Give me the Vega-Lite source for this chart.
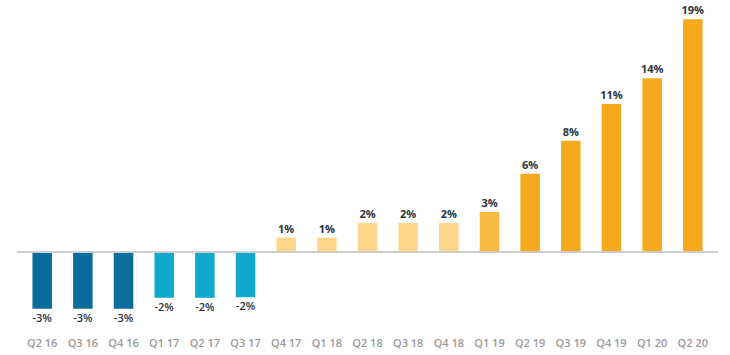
{
  "$schema": "https://vega.github.io/schema/vega-lite/v6.json",
  "autosize": {"type": "none"},
  "width": 701,
  "height": 319,
  "padding": {"left": 17, "top": 7, "right": 12, "bottom": 29},
  "background": "white",
  "config": {"view": {"stroke": null}, "font": "Open Sans"},
  "data": {
    "values": [
      {"quarter": "Q2 16", "value": -4.6, "label": "-3%", "group": "a"},
      {"quarter": "Q3 16", "value": -4.6, "label": "-3%", "group": "a"},
      {"quarter": "Q4 16", "value": -4.6, "label": "-3%", "group": "a"},
      {"quarter": "Q1 17", "value": -3.7, "label": "-2%", "group": "b"},
      {"quarter": "Q2 17", "value": -3.7, "label": "-2%", "group": "b"},
      {"quarter": "Q3 17", "value": -3.65, "label": "-2%", "group": "b"},
      {"quarter": "Q4 17", "value": 1.2, "label": "1%", "group": "c"},
      {"quarter": "Q1 18", "value": 1.2, "label": "1%", "group": "c"},
      {"quarter": "Q2 18", "value": 2.4, "label": "2%", "group": "c"},
      {"quarter": "Q3 18", "value": 2.4, "label": "2%", "group": "c"},
      {"quarter": "Q4 18", "value": 2.4, "label": "2%", "group": "c"},
      {"quarter": "Q1 19", "value": 3.3, "label": "3%", "group": "d"},
      {"quarter": "Q2 19", "value": 6.4, "label": "6%", "group": "e"},
      {"quarter": "Q3 19", "value": 9.1, "label": "8%", "group": "e"},
      {"quarter": "Q4 19", "value": 12.1, "label": "11%", "group": "e"},
      {"quarter": "Q1 20", "value": 14.2, "label": "14%", "group": "e"},
      {"quarter": "Q2 20", "value": 19.0, "label": "19%", "group": "e"}
    ]
  },
  "encoding": {
    "x": {
      "field": "quarter",
      "type": "nominal",
      "sort": null,
      "scale": {"paddingInner": 0.52, "paddingOuter": 0.38},
      "axis": {
        "title": null,
        "orient": "bottom",
        "domain": false,
        "ticks": false,
        "labelAngle": 0,
        "labelFontSize": 11,
        "labelFont": "Open Sans",
        "labelFontWeight": 600,
        "labelColor": "#9a9a9a",
        "labelPadding": 11
      }
    },
    "y": {
      "field": "value",
      "type": "quantitative",
      "scale": {"domain": [-6, 20], "nice": false, "zero": true},
      "axis": null
    }
  },
  "layer": [
    {
      "mark": {"type": "bar"},
      "encoding": {
        "color": {
          "field": "group",
          "type": "nominal",
          "scale": {
            "domain": ["a", "b", "c", "d", "e"],
            "range": ["#0a6d9c", "#10a8cc", "#fed68a", "#f8b940", "#f5a91c"]
          },
          "legend": null
        }
      }
    },
    {
      "mark": {"type": "rule", "color": "#cccccc", "strokeWidth": 1},
      "encoding": {"y": {"datum": 0}, "x": {"value": 0}, "x2": {"value": 701}}
    },
    {
      "transform": [{"filter": "datum.value >= 0"}],
      "mark": {"type": "text", "baseline": "bottom", "dy": -3, "fontSize": 11, "fontWeight": 700, "color": "#2b3440", "font": "Open Sans"},
      "encoding": {"text": {"field": "label"}}
    },
    {
      "transform": [{"filter": "datum.value < 0"}],
      "mark": {"type": "text", "baseline": "top", "dy": 4, "fontSize": 11, "fontWeight": 600, "color": "#2b3440", "font": "Open Sans"},
      "encoding": {"text": {"field": "label"}}
    }
  ]
}
